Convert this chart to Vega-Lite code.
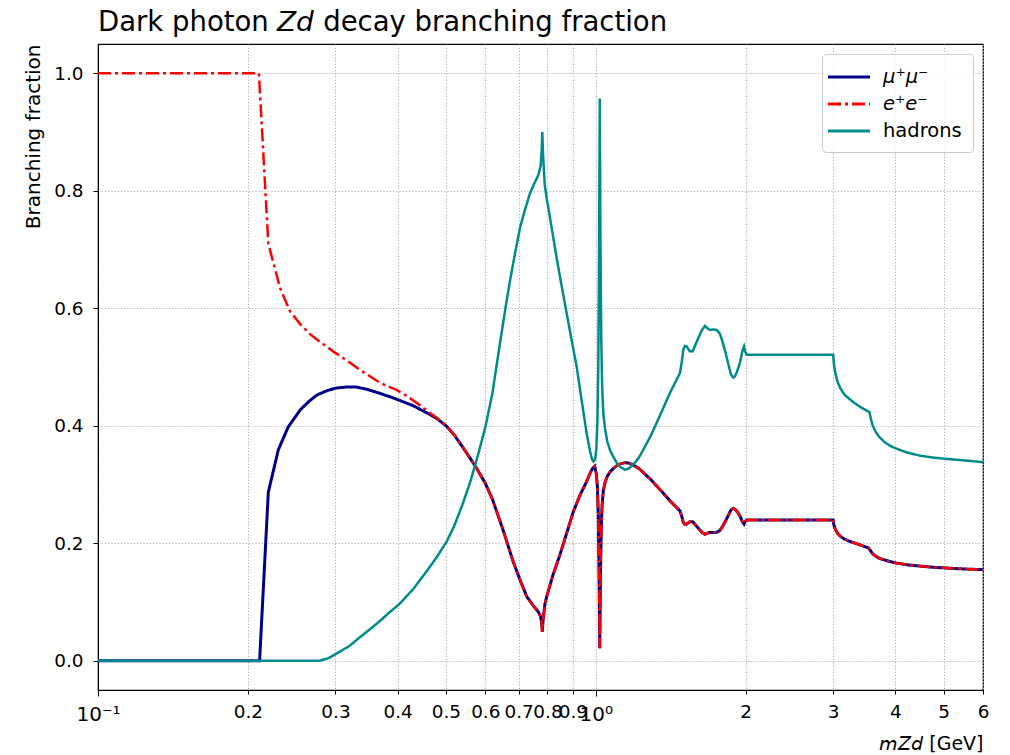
{
  "$schema": "https://vega.github.io/schema/vega-lite/v6.json",
  "width": 885,
  "height": 646,
  "autosize": {"type": "none"},
  "padding": {"left": 98, "top": 44, "right": 27, "bottom": 65},
  "background": "white",
  "title": {
    "text": "Dark photon 𝘡𝘥 decay branching fraction",
    "anchor": "start",
    "frame": "group",
    "font": "DejaVu Sans",
    "fontSize": 27.5,
    "fontWeight": "normal",
    "color": "black",
    "offset": 8
  },
  "config": {
    "font": "DejaVu Sans",
    "view": {"stroke": "black", "strokeWidth": 1.2}
  },
  "datasets": {
    "mumu": [
      {"m": 0.1, "bf": 0}, {"m": 0.2112, "bf": 0}, {"m": 0.2199, "bf": 0.287}, {"m": 0.2303, "bf": 0.359},
      {"m": 0.2411, "bf": 0.398}, {"m": 0.2549, "bf": 0.427}, {"m": 0.265, "bf": 0.441}, {"m": 0.2749, "bf": 0.452},
      {"m": 0.287, "bf": 0.459}, {"m": 0.3, "bf": 0.464}, {"m": 0.316, "bf": 0.466}, {"m": 0.33, "bf": 0.466},
      {"m": 0.347, "bf": 0.462}, {"m": 0.369, "bf": 0.455}, {"m": 0.39, "bf": 0.448}, {"m": 0.404, "bf": 0.443},
      {"m": 0.43, "bf": 0.434}, {"m": 0.46, "bf": 0.421}, {"m": 0.48, "bf": 0.412}, {"m": 0.502, "bf": 0.399},
      {"m": 0.52, "bf": 0.384}, {"m": 0.54, "bf": 0.364}, {"m": 0.56, "bf": 0.344}, {"m": 0.577, "bf": 0.327},
      {"m": 0.6, "bf": 0.302}, {"m": 0.62, "bf": 0.275}, {"m": 0.65, "bf": 0.225}, {"m": 0.683, "bf": 0.168},
      {"m": 0.705, "bf": 0.137}, {"m": 0.727, "bf": 0.109}, {"m": 0.75, "bf": 0.093}, {"m": 0.767, "bf": 0.083},
      {"m": 0.775, "bf": 0.075}, {"m": 0.779, "bf": 0.063}, {"m": 0.781, "bf": 0.049}, {"m": 0.784, "bf": 0.069},
      {"m": 0.79, "bf": 0.095}, {"m": 0.797, "bf": 0.109}, {"m": 0.82, "bf": 0.145}, {"m": 0.848, "bf": 0.181},
      {"m": 0.875, "bf": 0.218}, {"m": 0.901, "bf": 0.253}, {"m": 0.93, "bf": 0.282}, {"m": 0.959, "bf": 0.305},
      {"m": 0.975, "bf": 0.32}, {"m": 0.985, "bf": 0.327}, {"m": 0.995, "bf": 0.331}, {"m": 1.003, "bf": 0.318},
      {"m": 1.008, "bf": 0.295}, {"m": 1.012, "bf": 0.25}, {"m": 1.015, "bf": 0.175}, {"m": 1.019, "bf": 0.021},
      {"m": 1.022, "bf": 0.14}, {"m": 1.026, "bf": 0.225}, {"m": 1.03, "bf": 0.265}, {"m": 1.036, "bf": 0.29},
      {"m": 1.044, "bf": 0.303}, {"m": 1.055, "bf": 0.314}, {"m": 1.07, "bf": 0.322}, {"m": 1.085, "bf": 0.327},
      {"m": 1.102, "bf": 0.332}, {"m": 1.12, "bf": 0.335}, {"m": 1.145, "bf": 0.337}, {"m": 1.165, "bf": 0.3365},
      {"m": 1.19, "bf": 0.333}, {"m": 1.22, "bf": 0.3275}, {"m": 1.246, "bf": 0.3205}, {"m": 1.29, "bf": 0.3085},
      {"m": 1.326, "bf": 0.2975}, {"m": 1.37, "bf": 0.284}, {"m": 1.41, "bf": 0.272}, {"m": 1.445, "bf": 0.263},
      {"m": 1.477, "bf": 0.255}, {"m": 1.49, "bf": 0.245}, {"m": 1.5, "bf": 0.235}, {"m": 1.512, "bf": 0.232},
      {"m": 1.523, "bf": 0.2325}, {"m": 1.545, "bf": 0.2365}, {"m": 1.566, "bf": 0.2365}, {"m": 1.585, "bf": 0.2315},
      {"m": 1.607, "bf": 0.2255}, {"m": 1.635, "bf": 0.2185}, {"m": 1.658, "bf": 0.215}, {"m": 1.677, "bf": 0.217},
      {"m": 1.697, "bf": 0.2185}, {"m": 1.72, "bf": 0.218}, {"m": 1.75, "bf": 0.2185}, {"m": 1.775, "bf": 0.2215},
      {"m": 1.791, "bf": 0.226}, {"m": 1.82, "bf": 0.2365}, {"m": 1.847, "bf": 0.2475}, {"m": 1.87, "bf": 0.2565},
      {"m": 1.89, "bf": 0.259}, {"m": 1.904, "bf": 0.258}, {"m": 1.925, "bf": 0.2535}, {"m": 1.95, "bf": 0.246},
      {"m": 1.972, "bf": 0.236}, {"m": 1.986, "bf": 0.2325}, {"m": 1.995, "bf": 0.2365}, {"m": 2.01, "bf": 0.2395},
      {"m": 3.0, "bf": 0.2395}, {"m": 3.01, "bf": 0.231}, {"m": 3.03, "bf": 0.224}, {"m": 3.06, "bf": 0.217},
      {"m": 3.1, "bf": 0.212}, {"m": 3.16, "bf": 0.207}, {"m": 3.24, "bf": 0.203}, {"m": 3.35, "bf": 0.199},
      {"m": 3.45, "bf": 0.195}, {"m": 3.53, "bf": 0.192}, {"m": 3.56, "bf": 0.188}, {"m": 3.6, "bf": 0.182},
      {"m": 3.65, "bf": 0.178}, {"m": 3.72, "bf": 0.174}, {"m": 3.85, "bf": 0.17}, {"m": 4.02, "bf": 0.166},
      {"m": 4.25, "bf": 0.163}, {"m": 4.48, "bf": 0.161}, {"m": 4.75, "bf": 0.159}, {"m": 5.0, "bf": 0.158},
      {"m": 5.5, "bf": 0.156}, {"m": 6.0, "bf": 0.155}
    ],
    "ee": [
      {"m": 0.1, "bf": 1.0}, {"m": 0.2105, "bf": 1.0}, {"m": 0.2199, "bf": 0.71}, {"m": 0.2321, "bf": 0.635},
      {"m": 0.243, "bf": 0.595}, {"m": 0.2549, "bf": 0.573}, {"m": 0.2667, "bf": 0.556}, {"m": 0.28, "bf": 0.542},
      {"m": 0.3, "bf": 0.524}, {"m": 0.32, "bf": 0.508}, {"m": 0.336, "bf": 0.495}, {"m": 0.355, "bf": 0.482},
      {"m": 0.369, "bf": 0.473}, {"m": 0.385, "bf": 0.466}, {"m": 0.398, "bf": 0.461}, {"m": 0.415, "bf": 0.452},
      {"m": 0.43, "bf": 0.443}, {"m": 0.445, "bf": 0.434}, {"m": 0.46, "bf": 0.424}, {"m": 0.48, "bf": 0.413},
      {"m": 0.502, "bf": 0.399},
      {"m": 0.52, "bf": 0.384}, {"m": 0.54, "bf": 0.364}, {"m": 0.56, "bf": 0.344}, {"m": 0.577, "bf": 0.327},
      {"m": 0.6, "bf": 0.302}, {"m": 0.62, "bf": 0.275}, {"m": 0.65, "bf": 0.225}, {"m": 0.683, "bf": 0.168},
      {"m": 0.705, "bf": 0.137}, {"m": 0.727, "bf": 0.109}, {"m": 0.75, "bf": 0.093}, {"m": 0.767, "bf": 0.083},
      {"m": 0.775, "bf": 0.075}, {"m": 0.779, "bf": 0.063}, {"m": 0.781, "bf": 0.049}, {"m": 0.784, "bf": 0.069},
      {"m": 0.79, "bf": 0.095}, {"m": 0.797, "bf": 0.109}, {"m": 0.82, "bf": 0.145}, {"m": 0.848, "bf": 0.181},
      {"m": 0.875, "bf": 0.218}, {"m": 0.901, "bf": 0.253}, {"m": 0.93, "bf": 0.282}, {"m": 0.959, "bf": 0.305},
      {"m": 0.975, "bf": 0.32}, {"m": 0.985, "bf": 0.327}, {"m": 0.995, "bf": 0.331}, {"m": 1.003, "bf": 0.318},
      {"m": 1.008, "bf": 0.295}, {"m": 1.012, "bf": 0.25}, {"m": 1.015, "bf": 0.175}, {"m": 1.019, "bf": 0.021},
      {"m": 1.022, "bf": 0.14}, {"m": 1.026, "bf": 0.225}, {"m": 1.03, "bf": 0.265}, {"m": 1.036, "bf": 0.29},
      {"m": 1.044, "bf": 0.303}, {"m": 1.055, "bf": 0.314}, {"m": 1.07, "bf": 0.322}, {"m": 1.085, "bf": 0.327},
      {"m": 1.102, "bf": 0.332}, {"m": 1.12, "bf": 0.335}, {"m": 1.145, "bf": 0.337}, {"m": 1.165, "bf": 0.3365},
      {"m": 1.19, "bf": 0.333}, {"m": 1.22, "bf": 0.3275}, {"m": 1.246, "bf": 0.3205}, {"m": 1.29, "bf": 0.3085},
      {"m": 1.326, "bf": 0.2975}, {"m": 1.37, "bf": 0.284}, {"m": 1.41, "bf": 0.272}, {"m": 1.445, "bf": 0.263},
      {"m": 1.477, "bf": 0.255}, {"m": 1.49, "bf": 0.245}, {"m": 1.5, "bf": 0.235}, {"m": 1.512, "bf": 0.232},
      {"m": 1.523, "bf": 0.2325}, {"m": 1.545, "bf": 0.2365}, {"m": 1.566, "bf": 0.2365}, {"m": 1.585, "bf": 0.2315},
      {"m": 1.607, "bf": 0.2255}, {"m": 1.635, "bf": 0.2185}, {"m": 1.658, "bf": 0.215}, {"m": 1.677, "bf": 0.217},
      {"m": 1.697, "bf": 0.2185}, {"m": 1.72, "bf": 0.218}, {"m": 1.75, "bf": 0.2185}, {"m": 1.775, "bf": 0.2215},
      {"m": 1.791, "bf": 0.226}, {"m": 1.82, "bf": 0.2365}, {"m": 1.847, "bf": 0.2475}, {"m": 1.87, "bf": 0.2565},
      {"m": 1.89, "bf": 0.259}, {"m": 1.904, "bf": 0.258}, {"m": 1.925, "bf": 0.2535}, {"m": 1.95, "bf": 0.246},
      {"m": 1.972, "bf": 0.236}, {"m": 1.986, "bf": 0.2325}, {"m": 1.995, "bf": 0.2365}, {"m": 2.01, "bf": 0.2395},
      {"m": 3.0, "bf": 0.2395}, {"m": 3.01, "bf": 0.231}, {"m": 3.03, "bf": 0.224}, {"m": 3.06, "bf": 0.217},
      {"m": 3.1, "bf": 0.212}, {"m": 3.16, "bf": 0.207}, {"m": 3.24, "bf": 0.203}, {"m": 3.35, "bf": 0.199},
      {"m": 3.45, "bf": 0.195}, {"m": 3.53, "bf": 0.192}, {"m": 3.56, "bf": 0.188}, {"m": 3.6, "bf": 0.182},
      {"m": 3.65, "bf": 0.178}, {"m": 3.72, "bf": 0.174}, {"m": 3.85, "bf": 0.17}, {"m": 4.02, "bf": 0.166},
      {"m": 4.25, "bf": 0.163}, {"m": 4.48, "bf": 0.161}, {"m": 4.75, "bf": 0.159}, {"m": 5.0, "bf": 0.158},
      {"m": 5.5, "bf": 0.156}, {"m": 6.0, "bf": 0.155}
    ],
    "had": [
      {"m": 0.1, "bf": 0}, {"m": 0.279, "bf": 0}, {"m": 0.29, "bf": 0.004}, {"m": 0.3, "bf": 0.011},
      {"m": 0.32, "bf": 0.025}, {"m": 0.336, "bf": 0.04}, {"m": 0.355, "bf": 0.056}, {"m": 0.369, "bf": 0.068},
      {"m": 0.385, "bf": 0.082}, {"m": 0.404, "bf": 0.097}, {"m": 0.43, "bf": 0.122}, {"m": 0.46, "bf": 0.155},
      {"m": 0.48, "bf": 0.177}, {"m": 0.502, "bf": 0.203}, {"m": 0.52, "bf": 0.23}, {"m": 0.54, "bf": 0.266},
      {"m": 0.56, "bf": 0.305}, {"m": 0.577, "bf": 0.343}, {"m": 0.6, "bf": 0.397}, {"m": 0.62, "bf": 0.455},
      {"m": 0.642, "bf": 0.54}, {"m": 0.66, "bf": 0.605}, {"m": 0.673, "bf": 0.648}, {"m": 0.69, "bf": 0.698},
      {"m": 0.705, "bf": 0.738}, {"m": 0.721, "bf": 0.768}, {"m": 0.738, "bf": 0.796}, {"m": 0.755, "bf": 0.815},
      {"m": 0.767, "bf": 0.827}, {"m": 0.775, "bf": 0.842}, {"m": 0.779, "bf": 0.87}, {"m": 0.781, "bf": 0.9},
      {"m": 0.784, "bf": 0.86}, {"m": 0.79, "bf": 0.81}, {"m": 0.797, "bf": 0.787}, {"m": 0.803, "bf": 0.772},
      {"m": 0.82, "bf": 0.725}, {"m": 0.835, "bf": 0.685}, {"m": 0.855, "bf": 0.636}, {"m": 0.874, "bf": 0.592},
      {"m": 0.895, "bf": 0.545}, {"m": 0.916, "bf": 0.5}, {"m": 0.93, "bf": 0.462}, {"m": 0.944, "bf": 0.425},
      {"m": 0.96, "bf": 0.385}, {"m": 0.974, "bf": 0.357}, {"m": 0.983, "bf": 0.343}, {"m": 0.99, "bf": 0.339},
      {"m": 0.997, "bf": 0.343}, {"m": 1.003, "bf": 0.36}, {"m": 1.008, "bf": 0.41}, {"m": 1.012, "bf": 0.5},
      {"m": 1.015, "bf": 0.65}, {"m": 1.019, "bf": 0.957}, {"m": 1.022, "bf": 0.72}, {"m": 1.026, "bf": 0.55},
      {"m": 1.03, "bf": 0.47}, {"m": 1.036, "bf": 0.42}, {"m": 1.044, "bf": 0.395}, {"m": 1.055, "bf": 0.373},
      {"m": 1.07, "bf": 0.357}, {"m": 1.085, "bf": 0.347}, {"m": 1.102, "bf": 0.337}, {"m": 1.12, "bf": 0.33},
      {"m": 1.145, "bf": 0.325}, {"m": 1.165, "bf": 0.327}, {"m": 1.19, "bf": 0.334}, {"m": 1.22, "bf": 0.345},
      {"m": 1.246, "bf": 0.359}, {"m": 1.29, "bf": 0.383}, {"m": 1.326, "bf": 0.405}, {"m": 1.37, "bf": 0.432},
      {"m": 1.41, "bf": 0.456}, {"m": 1.445, "bf": 0.474}, {"m": 1.477, "bf": 0.49}, {"m": 1.49, "bf": 0.51},
      {"m": 1.5, "bf": 0.53}, {"m": 1.512, "bf": 0.536}, {"m": 1.523, "bf": 0.535}, {"m": 1.545, "bf": 0.527},
      {"m": 1.566, "bf": 0.527}, {"m": 1.585, "bf": 0.537}, {"m": 1.607, "bf": 0.549}, {"m": 1.635, "bf": 0.563},
      {"m": 1.658, "bf": 0.57}, {"m": 1.677, "bf": 0.566}, {"m": 1.697, "bf": 0.563}, {"m": 1.72, "bf": 0.564},
      {"m": 1.75, "bf": 0.563}, {"m": 1.775, "bf": 0.557}, {"m": 1.791, "bf": 0.548}, {"m": 1.82, "bf": 0.527},
      {"m": 1.847, "bf": 0.505}, {"m": 1.87, "bf": 0.487}, {"m": 1.89, "bf": 0.482}, {"m": 1.904, "bf": 0.484},
      {"m": 1.925, "bf": 0.493}, {"m": 1.95, "bf": 0.508}, {"m": 1.972, "bf": 0.528}, {"m": 1.986, "bf": 0.535},
      {"m": 1.995, "bf": 0.527}, {"m": 2.01, "bf": 0.521}, {"m": 3.0, "bf": 0.521}, {"m": 3.01, "bf": 0.505},
      {"m": 3.03, "bf": 0.49}, {"m": 3.06, "bf": 0.475}, {"m": 3.1, "bf": 0.464}, {"m": 3.16, "bf": 0.453},
      {"m": 3.24, "bf": 0.445}, {"m": 3.32, "bf": 0.438}, {"m": 3.4, "bf": 0.432}, {"m": 3.48, "bf": 0.427},
      {"m": 3.55, "bf": 0.423}, {"m": 3.57, "bf": 0.412}, {"m": 3.6, "bf": 0.401}, {"m": 3.65, "bf": 0.39},
      {"m": 3.72, "bf": 0.38}, {"m": 3.82, "bf": 0.371}, {"m": 3.92, "bf": 0.365}, {"m": 4.02, "bf": 0.361},
      {"m": 4.2, "bf": 0.355}, {"m": 4.48, "bf": 0.349}, {"m": 4.75, "bf": 0.346}, {"m": 4.99, "bf": 0.344},
      {"m": 5.5, "bf": 0.341}, {"m": 6.0, "bf": 0.338}
    ]
  },
  "encoding": {
    "x": {
      "field": "m",
      "type": "quantitative",
      "scale": {"type": "log", "domain": [0.1, 6], "nice": false},
      "axis": {
        "values": [0.1, 0.2, 0.3, 0.4, 0.5, 0.6, 0.7, 0.8, 0.9, 1, 2, 3, 4, 5, 6],
        "labelExpr": "datum.value == 0.1 ? '10⁻¹' : datum.value == 1 ? '10⁰' : format(datum.value, '.1~f')",
        "labelOverlap": false,
        "labelFlush": false,
        "labelBound": false,
        "labelFont": "DejaVu Sans",
        "labelFontSize": {"condition": {"test": "datum.value == 0.1 || datum.value == 1", "value": 20}, "value": 18.4},
        "labelColor": "black",
        "labelPadding": 8,
        "tickSize": {"condition": {"test": "datum.value == 0.1 || datum.value == 1", "value": 6}, "value": 4},
        "tickColor": "black",
        "domainColor": "black",
        "grid": true,
        "gridDash": [1.2, 2],
        "gridColor": "#b0b0b0",
        "gridWidth": 1.1,
        "title": "𝘮𝘡𝘥 [GeV]",
        "titleAnchor": "end",
        "titleFont": "DejaVu Sans",
        "titleFontSize": 19,
        "titleFontWeight": "normal",
        "titleColor": "black",
        "titlePadding": 10
      }
    },
    "y": {
      "field": "bf",
      "type": "quantitative",
      "scale": {"domain": [-0.05, 1.05], "nice": false, "zero": false},
      "axis": {
        "values": [0, 0.2, 0.4, 0.6, 0.8, 1.0],
        "format": ".1f",
        "labelFont": "DejaVu Sans",
        "labelFontSize": 18.4,
        "labelColor": "black",
        "labelPadding": 10,
        "tickSize": 5,
        "tickColor": "black",
        "domainColor": "black",
        "grid": true,
        "gridDash": [1.2, 2],
        "gridColor": "#b0b0b0",
        "gridWidth": 1.1,
        "title": "Branching fraction",
        "titleAnchor": "end",
        "titleFont": "DejaVu Sans",
        "titleFontSize": 20,
        "titleFontWeight": "normal",
        "titleColor": "black",
        "titlePadding": 10
      }
    },
    "color": {
      "field": "s",
      "type": "nominal",
      "scale": {"domain": ["μ⁺μ⁻", "e⁺e⁻", "hadrons"], "range": ["#00008b", "#ff0000", "#008b8b"]},
      "legend": {
        "title": null,
        "orient": "top-right",
        "offset": 10,
        "symbolType": "M-2,0H2",
        "symbolSize": 441,
        "symbolStrokeWidth": 3,
        "symbolOffset": 4,
        "labelFont": "DejaVu Sans",
        "labelFontSize": 19.5,
        "labelColor": "black",
        "labelOffset": 22,
        "rowPadding": 5,
        "padding": 11,
        "fillColor": "rgba(255,255,255,0.85)",
        "strokeColor": "#cccccc",
        "cornerRadius": 4,
        "encode": {
          "labels": {"update": {"fontStyle": {"signal": "datum.value === 'hadrons' ? 'normal' : 'italic'"}}}
        }
      }
    },
    "strokeDash": {
      "field": "s",
      "type": "nominal",
      "scale": {"domain": ["μ⁺μ⁻", "e⁺e⁻", "hadrons"], "range": [[1, 0], [13, 4, 3, 4], [1, 0]]},
      "legend": {
        "title": null,
        "orient": "top-right",
        "offset": 10,
        "symbolType": "M-2,0H2",
        "symbolSize": 441,
        "symbolStrokeWidth": 3,
        "symbolOffset": 4,
        "labelFont": "DejaVu Sans",
        "labelFontSize": 19.5,
        "labelColor": "black",
        "labelOffset": 22,
        "rowPadding": 5,
        "padding": 11,
        "fillColor": "rgba(255,255,255,0.85)",
        "strokeColor": "#cccccc",
        "cornerRadius": 4,
        "encode": {
          "labels": {"update": {"fontStyle": {"signal": "datum.value === 'hadrons' ? 'normal' : 'italic'"}}}
        }
      }
    }
  },
  "layer": [
    {
      "data": {"name": "mumu"},
      "transform": [{"calculate": "'μ⁺μ⁻'", "as": "s"}],
      "mark": {"type": "line", "strokeWidth": 3, "clip": true}
    },
    {
      "data": {"name": "ee"},
      "transform": [{"calculate": "'e⁺e⁻'", "as": "s"}],
      "mark": {"type": "line", "strokeWidth": 2.5, "clip": true}
    },
    {
      "data": {"name": "had"},
      "transform": [{"calculate": "'hadrons'", "as": "s"}],
      "mark": {"type": "line", "strokeWidth": 2.5, "clip": true}
    }
  ]
}
